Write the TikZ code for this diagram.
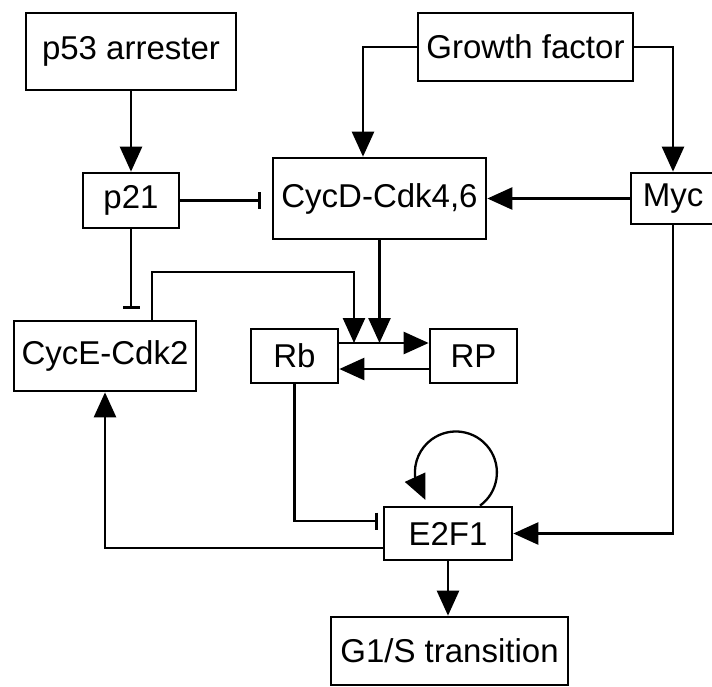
\documentclass[tikz,border=0pt]{standalone}
\usepackage{fontspec}
\setmainfont{Liberation Sans}
\usetikzlibrary{arrows.meta,calc,bending}
\begin{document}
\begin{tikzpicture}[x=1pt,y=1pt,
  box/.style={draw,line width=2.7pt,rectangle,inner sep=0pt,font=\fontsize{33}{40}\selectfont},
  arr/.style={line width=2.6pt,-{Triangle[length=25pt,width=22pt]}},
  inh/.style={line width=2.6pt,-{Bar[width=17pt,line width=2.6pt]},shorten >=11pt}]
\useasboundingbox (0,0) rectangle (712,-686);
\node[box,minimum width=210,minimum height=77] (p53) at (131,-51.5) {p53 arrester};
\node[box,minimum width=215,minimum height=68] (GF) at (525.5,-47) {Growth factor};
\node[box,minimum width=96,minimum height=55] (p21) at (131,-200.5) {p21};
\node[box,minimum width=213,minimum height=81] (CycD) at (379.5,-198.5) {CycD-Cdk4,6};
\node[box,minimum width=84,minimum height=51] (Myc) at (673,-198.5) {Myc};
\node[box,minimum width=182,minimum height=70] (CycE) at (105,-356) {CycE-Cdk2};
\node[box,minimum width=87,minimum height=54] (Rb) at (294.5,-356) {Rb};
\node[box,minimum width=87,minimum height=54] (RP) at (473.5,-356) {RP};
\node[box,minimum width=128,minimum height=53] (E2F1) at (448,-533.5) {E2F1};
\node[box,minimum width=237,minimum height=68] (G1S) at (449.5,-651) {G1/S transition};
\coordinate (j1) at (354,-343);
\coordinate (j2) at (379.5,-343);
\draw[arr] (p53.south) -- (p21.north);
\draw[arr] (GF.west) -| ($(CycD.north)+(-16.5,0)$);
\draw[arr] (GF.east) -| (Myc.north);
\draw[arr] (Myc.west) -- (CycD.east);
\draw[inh] (p21.east) -- (p21.east -| CycD.west);
\draw[inh] (p21.south) -- (p21.south |- CycE.north);
\draw[arr] ($(CycE.north)+(47,0)$) |- ($(j1)+(0,71)$) -- (j1);
\draw[arr] (CycD.south) -- (j2);
\draw[arr] ($(Rb.east)+(0,13)$) -- ($(RP.west)+(0,13)$);
\draw[arr] ($(RP.west)+(0,-13)$) -- ($(Rb.east)+(0,-13)$);
\draw[inh,shorten >=5pt] (Rb.south) |- ($(E2F1.west)+(0,12.5)$);
\draw[arr] ($(E2F1.west)+(0,-14.5)$) -| (CycE.south);
\draw[arr] (Myc.south) |- (E2F1.east);
\draw[arr] (E2F1.south) -- (E2F1.south |- G1S.north);
\draw[arr,line width=2.3pt] ($(E2F1.north)+(32,0)$) arc[start angle=-54,end angle=222,radius=41];
\end{tikzpicture}
\end{document}
